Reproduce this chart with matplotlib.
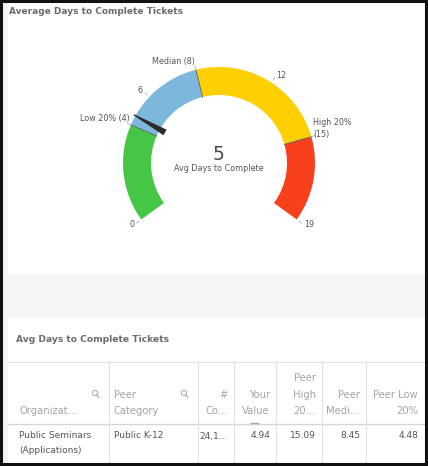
import numpy as np
import matplotlib
matplotlib.use('Agg')
import matplotlib.pyplot as plt
from matplotlib.patches import Wedge, Rectangle, Polygon, Circle

# gauge data
band_edges = [0, 4.48, 8.45, 15.09, 19]
band_colors = ['#46c646', '#7db8dc', '#ffcf02', '#f8401d']
tick_values = [0, 6, 12, 19]
tick_labels = ['0', '6', '12', '19']
ref_values = [4.48, 8.45, 15.09]
ref_labels = ['Low 20% (4)', 'Median (8)', 'High 20%\n(15)']
gauge_value = 4.94
gauge_text = '5'
gauge_caption = 'Avg Days to Complete'

# table data
table_headers = ['Organizat...', 'Peer\nCategory', '#\nCo...', 'Your\nValue',
                 'Peer\nHigh\n20...', 'Peer\nMedi...', 'Peer Low\n20%']
table_row = ['Public Seminars\n(Applications)', 'Public K-12', '24,1...', '4.94',
             '15.09', '8.45', '4.48']

W, H = 428, 466
fig = plt.figure(figsize=(W / 100, H / 100), dpi=100)
fig.patch.set_facecolor('#f5f5f5')
ax = fig.add_axes([0, 0, 1, 1])
ax.set_xlim(0, W)
ax.set_ylim(H, 0)
ax.axis('off')

FONT = 'DejaVu Sans'
LBL = 5.8

# panels
ax.add_patch(Rectangle((8, 2), 417, 272, facecolor='white', edgecolor='none', zorder=0))
ax.add_patch(Rectangle((8, 318), 417, 146, facecolor='white', edgecolor='none', zorder=0))
ax.add_patch(Rectangle((1, 1), W - 3, H - 3, facecolor='none', edgecolor='#111111',
                       lw=2.2, zorder=10))

ax.text(9, 12, 'Average Days to Complete Tickets', fontsize=6.5, fontweight='bold',
        color='#6b6b6b', va='center', ha='left', family=FONT)

# gauge
cx, cy = 219, 163
r_out, r_in = 96, 68
start, sweep = 216.0, 252.0
vmax = band_edges[-1]


def ang(v):
    return start - sweep * v / vmax


def pt(v, r):
    a = np.radians(ang(v))
    return cx + r * np.cos(a), cy - r * np.sin(a)


for lo, hi, col in zip(band_edges[:-1], band_edges[1:], band_colors):
    # y axis is inverted, so angles are mirrored
    ax.add_patch(Wedge((cx, cy), r_out, -ang(lo), -ang(hi), width=r_out - r_in,
                       facecolor=col, edgecolor='none', zorder=2))

for v in band_edges[1:-1]:
    x0, y0 = pt(v, r_in)
    x1, y1 = pt(v, r_out)
    ax.plot([x0, x1], [y0, y1], color='#5a5a5a', lw=0.6, zorder=3)

tick_align = [('right', 'center'), ('right', 'center'), ('left', 'center'), ('left', 'center')]
for v, lab, (ha, va) in zip(tick_values, tick_labels, tick_align):
    x0, y0 = pt(v, r_out + 3)
    x1, y1 = pt(v, r_out + 6)
    ax.plot([x0, x1], [y0, y1], color='#b0b0b0', lw=0.6, zorder=3)
    tx, ty = pt(v, r_out + 9)
    ax.text(tx, ty, lab, fontsize=LBL, color='#555555', ha=ha, va=va, family=FONT)

ref_align = [('right', 'center'), ('right', 'center'), ('left', 'center')]
ref_r = [r_out + 1, r_out + 4, r_out + 2]
ref_dy = [-6, -4, -8]
for v, lab, (ha, va), rr, dy in zip(ref_values, ref_labels, ref_align, ref_r, ref_dy):
    x0, y0 = pt(v, r_out + 1)
    x1, y1 = pt(v, r_out + 4)
    ax.plot([x0, x1], [y0, y1], color='#b0b0b0', lw=0.6, zorder=3)
    tx, ty = pt(v, rr)
    ax.text(tx, ty + dy, lab, fontsize=LBL, color='#555555', ha=ha, va=va,
            family=FONT, linespacing=1.45)

# needle
a = np.radians(ang(gauge_value))
d = np.array([np.cos(a), -np.sin(a)])
n = np.array([np.sin(a), np.cos(a)])
tip = np.array([cx, cy]) + d * (r_out + 2)
base = np.array([cx, cy]) + d * (r_in - 6)
needle = [tip + n * 0.6, tip - n * 0.6, base - n * 3.2, base + n * 3.2]
ax.add_patch(Polygon(needle, closed=True, facecolor='#2b2b2b', edgecolor='none', zorder=4))

ax.text(cx, 154.5, gauge_text, fontsize=13.5, color='#4d4d4d', ha='center', va='center',
        family=FONT)
ax.text(cx, 168.5, gauge_caption, fontsize=LBL, color='#555555', ha='center',
        va='center', family=FONT)

# table
ax.text(16, 340, 'Avg Days to Complete Tickets', fontsize=6.6, fontweight='bold',
        color='#6b6b6b', va='center', ha='left', family=FONT)

col_x = [8, 109, 198, 234, 276, 322, 366, 424]
grid = '#e3e3e3'
ax.plot([8, 424], [362, 362], color=grid, lw=0.8)
ax.plot([8, 424], [424, 424], color='#d5d5d5', lw=1.0)
for x in col_x[1:-1]:
    ax.plot([x, x], [362, 464], color=grid, lw=0.8)

for i, h in enumerate(table_headers):
    left = i < 2
    tx = col_x[i] + 5 if left else col_x[i + 1] - 6
    ax.text(tx + (7 if i == 0 else 0), 416, h, fontsize=7.2, color='#a5a5a5',
            ha='left' if left else 'right', va='bottom', family=FONT,
            linespacing=1.8)

for i, c in enumerate(table_row):
    left = i < 2
    tx = col_x[i] + 11 if i == 0 else (col_x[i] + 5 if left else col_x[i + 1] - 6)
    ax.text(tx, 431.5, c, fontsize=6.5, color='#555555', ha='left' if left else 'right',
            va='top', family=FONT, linespacing=1.75)

# search icons
for x in [95, 184]:
    ax.add_patch(Circle((x, 393), 2.6, facecolor='none', edgecolor='#a8a8a8', lw=0.7))
    ax.plot([x + 1.8, x + 4], [395, 397.4], color='#a8a8a8', lw=0.8)

# sort marker
ax.plot([251, 258], [423, 423], color='#a8a8a8', lw=1.0)

fig.savefig('out.png', dpi=100, facecolor=fig.get_facecolor())
